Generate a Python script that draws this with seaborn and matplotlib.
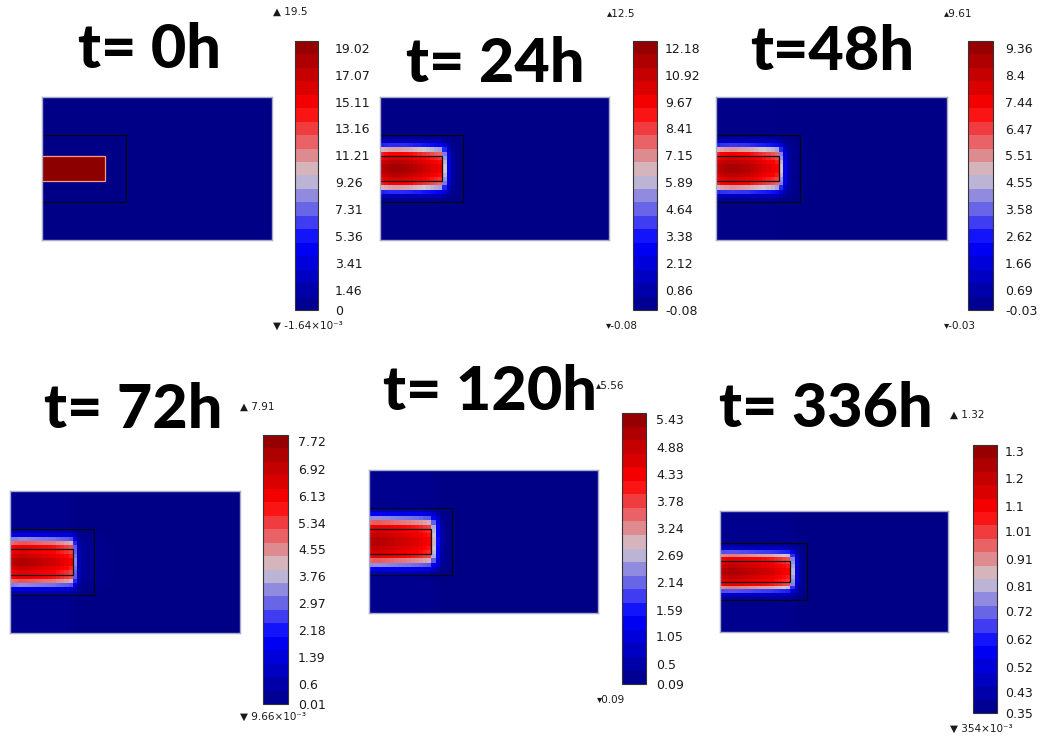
import numpy as np
import pandas as pd
import seaborn as sns
import matplotlib
matplotlib.use("Agg")
import matplotlib.pyplot as plt
from matplotlib.colors import LinearSegmentedColormap, ListedColormap, Normalize
from matplotlib.cm import ScalarMappable
from matplotlib.ticker import FixedLocator

# ---------------- data ----------------
titles = ["t= 0h", "t= 24h", "t=48h", "t= 72h", "t= 120h", "t= 336h"]
vmins = [-1.64e-3, -0.08, -0.03, 9.66e-3, 0.09, 0.354]
vmaxs = [19.5, 12.5, 9.61, 7.91, 5.56, 1.32]
top_labels = ["19.5", "12.5", "9.61", "7.91", "5.56", "1.32"]
bottom_labels = ["-1.64×10⁻³", "-0.08", "-0.03", "9.66×10⁻³", "0.09", "354×10⁻³"]
small_marker = [False, True, True, False, True, False]

ticks_0h = ["19.02", "17.07", "15.11", "13.16", "11.21", "9.26", "7.31", "5.36", "3.41", "1.46", "0"]
ticks_24h = ["12.18", "10.92", "9.67", "8.41", "7.15", "5.89", "4.64", "3.38", "2.12", "0.86", "-0.08"]
ticks_48h = ["9.36", "8.4", "7.44", "6.47", "5.51", "4.55", "3.58", "2.62", "1.66", "0.69", "-0.03"]
ticks_72h = ["7.72", "6.92", "6.13", "5.34", "4.55", "3.76", "2.97", "2.18", "1.39", "0.6", "0.01"]
ticks_120h = ["5.43", "4.88", "4.33", "3.78", "3.24", "2.69", "2.14", "1.59", "1.05", "0.5", "0.09"]
ticks_336h = ["1.3", "1.2", "1.1", "1.01", "0.91", "0.81", "0.72", "0.62", "0.52", "0.43", "0.35"]
tick_sets = [ticks_0h, ticks_24h, ticks_48h, ticks_72h, ticks_120h, ticks_336h]

# relative level (0 = min, 1 = max) along the axis of symmetry, left -> right (55 cells)
xprof_0h = [1.0] * 15 + [0.0] * 40
xprof_24h = [0.90, 0.92, 0.94, 0.95, 0.95, 0.94, 0.93, 0.92, 0.90, 0.88, 0.86, 0.84, 0.82, 0.80, 0.78] \
    + [0.50, 0.20, 0.05, 0.015, 0.005] + [0.0] * 35
xprof_48h = [0.88, 0.91, 0.93, 0.94, 0.94, 0.93, 0.92, 0.91, 0.89, 0.87, 0.85, 0.83, 0.81, 0.79, 0.76] \
    + [0.50, 0.22, 0.06, 0.02, 0.01] + [0.005] * 5 + [0.0] * 30
xprof_72h = [0.88, 0.90, 0.92, 0.92, 0.91, 0.90, 0.89, 0.88, 0.87, 0.86, 0.85, 0.83, 0.81, 0.79, 0.76] \
    + [0.42, 0.12, 0.04, 0.03, 0.03] + [0.025, 0.02, 0.015, 0.01, 0.005] + [0.0] * 30
xprof_120h = [0.90, 0.91, 0.91, 0.90, 0.89, 0.88, 0.87, 0.86, 0.85, 0.84, 0.83, 0.82, 0.80, 0.78, 0.76] \
    + [0.52, 0.26, 0.07, 0.02, 0.01] + [0.0] * 35
xprof_336h = [0.90, 0.92, 0.93, 0.93, 0.92, 0.91, 0.90, 0.89, 0.88, 0.87, 0.86, 0.85, 0.84, 0.82, 0.80, 0.78, 0.76] \
    + [0.48, 0.18, 0.04, 0.01] + [0.0] * 34
xprofs = [xprof_0h, xprof_24h, xprof_48h, xprof_72h, xprof_120h, xprof_336h]

# relative factor across the axis, centre -> outer edge (17 cells, mirrored)
yhalf_0h = [1.0] * 3 + [0.0] * 14
yhalf_24h = [1.0, 0.95, 0.88] + [0.80, 0.58, 0.32, 0.11, 0.02] + [0.0] * 9
yhalf_48h = [1.0, 0.95, 0.88] + [0.82, 0.60, 0.34, 0.12, 0.03] + [0.005] * 9
yhalf_72h = [1.0, 0.94, 0.88] + [0.86, 0.70, 0.46, 0.22, 0.07] + [0.02] * 9
yhalf_120h = [1.0, 0.96, 0.92] + [0.88, 0.70, 0.47, 0.25, 0.09] + [0.02] * 9
yhalf_336h = [1.0, 0.95, 0.90] + [0.86, 0.64, 0.38, 0.15, 0.05] + [0.02] * 9
yhalfs = [yhalf_0h, yhalf_24h, yhalf_48h, yhalf_72h, yhalf_120h, yhalf_336h]

# geometry (cells): implant rectangle and inner frame widths / half heights
rect_cols = [15, 15, 15, 15, 15, 17]
frame_cols = [20, 20, 20, 20, 20, 21]
rect_half_rows = 3
frame_half_rows = 8

# ---------------- layout (pixels) ----------------
W, H = 1047, 738
hm_boxes = [(42, 97, 272, 240), (380, 97, 609, 240), (716, 97, 947, 240),
            (10, 491, 240, 633), (369, 470, 598, 613), (720, 511, 948, 632)]
cb_boxes = [(295, 41, 318, 310), (633, 41, 657, 310), (968, 41, 993, 310),
            (263, 435, 288, 704), (622, 413, 646, 684), (973, 445, 997, 713)]
title_pos = [(149, 68), (495, 82), (832, 70), (133, 428), (490, 410), (826, 427)]
top_pos = [(273, 12), (607, 14), (944, 14), (240, 407), (596, 386), (950, 415)]
bot_pos = [(273, 326), (606, 326), (944, 326), (240, 717), (597, 700), (950, 729)]
label_pad_px = [17, 8, 12, 10, 10, 8]

cmap = LinearSegmentedColormap.from_list(
    "wave", [(0.0, "#000087"), (0.25, "#0000ff"), (0.5, "#d0c8d0"),
             (0.75, "#ff0000"), (1.0, "#8c0000")])
banded = ListedColormap(cmap(np.linspace(0.025, 0.975, 20)))

sns.set_theme(style="white")
plt.rcParams["font.family"] = ["DejaVu Sans"]

fig = plt.figure(figsize=(W / 100, H / 100), dpi=100)


def box_to_rect(b):
    x0, y0, x1, y1 = b
    return [x0 / W, 1 - y1 / H, (x1 - x0) / W, (y1 - y0) / H]


def open_box(ax, width, y0, y1, color, lw):
    # three-sided outline: the left side lies on the domain boundary
    ax.plot([0, width, width, 0], [y0, y0, y1, y1], color=color, lw=lw,
            solid_joinstyle="miter", solid_capstyle="butt", zorder=3,
            clip_on=True)


for i in range(6):
    vmin, vmax = vmins[i], vmaxs[i]
    x = np.array(xprofs[i])
    yh = np.array(yhalfs[i])
    yfull = np.concatenate([yh[::-1], yh])
    level = np.outer(yfull, x)
    field = pd.DataFrame(vmin + level * (vmax - vmin))

    ax = fig.add_axes(box_to_rect(hm_boxes[i]))
    sns.heatmap(field, ax=ax, cmap=cmap, vmin=vmin, vmax=vmax, cbar=False,
                xticklabels=False, yticklabels=False)
    for sp in ax.spines.values():
        sp.set_visible(True)
        sp.set_color("#a8acc8")
        sp.set_linewidth(1.0)
        sp.set_zorder(4)
    mid = len(yfull) / 2
    open_box(ax, frame_cols[i], mid - frame_half_rows, mid + frame_half_rows,
             "#05051a", 0.9)
    open_box(ax, rect_cols[i], mid - rect_half_rows, mid + rect_half_rows,
             "#ff9a80" if i == 0 else "#111111", 0.9)

    # colorbar
    cax = fig.add_axes(box_to_rect(cb_boxes[i]))
    sm = ScalarMappable(norm=Normalize(vmin=vmin, vmax=vmax), cmap=banded)
    cb = fig.colorbar(sm, cax=cax)
    labels = tick_sets[i]
    vals = [min(max(float(t), vmin), vmax) for t in labels]
    cb.set_ticks(vals)
    cb.set_ticklabels(labels)
    bounds = np.linspace(vmin, vmax, 21)[1:-1]
    cax.yaxis.set_minor_locator(FixedLocator(bounds))
    cax.tick_params(which="major", length=0, labelsize=9, labelcolor="#1a1a1a",
                    pad=label_pad_px[i] * 0.72)
    cax.tick_params(which="minor", direction="in", left=True, right=True,
                    length=3.5, width=1.3, color="#111111")
    cb.outline.set_linewidth(0.8)
    cb.outline.set_edgecolor("#333333")

    # max / min markers
    up = "▴" if small_marker[i] else "▲"
    dn = "▾" if small_marker[i] else "▼"
    sep = "" if small_marker[i] else " "
    tx, ty = top_pos[i]
    fig.text(tx / W, 1 - ty / H, up + sep + top_labels[i], fontsize=7.5,
             color="#1a1a1a", ha="left", va="center")
    bx, by = bot_pos[i]
    fig.text(bx / W, 1 - by / H, dn + sep + bottom_labels[i], fontsize=7.5,
             color="#1a1a1a", ha="left", va="center")

    # title
    px, py = title_pos[i]
    fig.text(px / W, 1 - py / H, titles[i], fontsize=44, fontweight="black",
             family=["Lato", "DejaVu Sans"], color="black", ha="center",
             va="baseline")

fig.savefig("out.png", dpi=100)
